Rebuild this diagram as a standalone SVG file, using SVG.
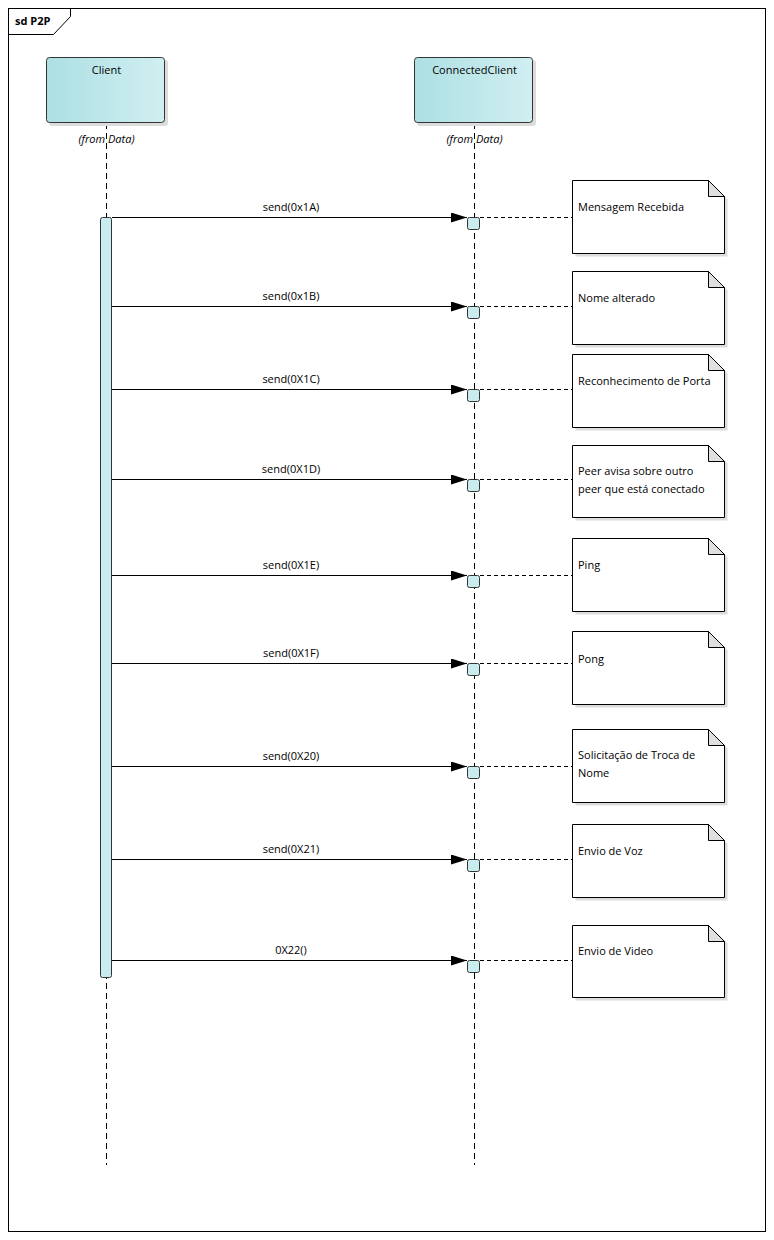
<svg xmlns="http://www.w3.org/2000/svg" width="774" height="1240" viewBox="0 0 774 1240">
<style>
text{font-family:"Segoe UI","Open Sans","Liberation Sans",sans-serif;font-size:11px;fill:#000}
.lbl{text-anchor:middle}
.it{font-style:italic;text-anchor:middle}
.life{stroke:#000;stroke-width:1;stroke-dasharray:6,4;fill:none}
.msg{stroke:#000;stroke-width:1.2;fill:none}
.link{stroke:#000;stroke-width:1;stroke-dasharray:4,3;fill:none}
.box{fill:url(#g);stroke:#333;stroke-width:1}
.act{fill:#c9ecee;stroke:#333;stroke-width:1}
.note{fill:#fff;stroke:#000;stroke-width:1}
.fold{fill:#e0e0e0;stroke:#000;stroke-width:1}
.shadow{fill:#dcdcdc}
</style>
<defs>
<linearGradient id="g" x1="0" y1="0" x2="1" y2="0">
<stop offset="0" stop-color="#addfe3"/>
<stop offset="1" stop-color="#d0eff1"/>
</linearGradient>
<marker id="arr" viewBox="0 0 16 10" refX="16" refY="5" markerWidth="16" markerHeight="10" markerUnits="userSpaceOnUse" orient="auto">
<path d="M0,0 L16,5 L0,10 Z" fill="#000"/>
</marker>
<path id="nshadow" d="M0,0 H136 L152,16 V73 H0 Z" fill="#dcdcdc"/>
</defs>
<rect x="0" y="0" width="774" height="1240" fill="#fff"/>
<g id="frame">
<rect x="8.5" y="8.5" width="757" height="1223" fill="none" stroke="#000"/>
<path d="M8.5,34.5 L53.5,34.5 L70.5,16.5 L70.5,8.5" fill="none" stroke="#000"/>
<text x="15" y="25" style="font-weight:bold">sd P2P</text>
</g>
<g id="lifelines">
<line class="life" x1="106.5" y1="123" x2="106.5" y2="1165"/>
<line class="life" x1="474.5" y1="123" x2="474.5" y2="1165"/>
</g>
<g id="client">
<rect class="shadow" x="49" y="60" width="119" height="66" rx="3"/>
<rect class="box" x="46.5" y="57.5" width="118" height="65" rx="3"/>
<text class="lbl" x="106.5" y="74">Client</text>
<text class="it" x="106.5" y="143">(from Data)</text>
</g>
<g id="connectedclient">
<rect class="shadow" x="417" y="60" width="119" height="66" rx="3"/>
<rect class="box" x="414.5" y="57.5" width="118" height="65" rx="3"/>
<text class="lbl" x="474.5" y="74">ConnectedClient</text>
<text class="it" x="474.5" y="143">(from Data)</text>
</g>
<g id="activation-client">
<rect class="act" x="100.5" y="217.5" width="11" height="760" rx="2"/>
</g>
<g id="connectors">
<line class="msg" x1="112" y1="217.5" x2="467" y2="217.5" marker-end="url(#arr)"/>
<line class="msg" x1="112" y1="306.5" x2="467" y2="306.5" marker-end="url(#arr)"/>
<line class="msg" x1="112" y1="389.5" x2="467" y2="389.5" marker-end="url(#arr)"/>
<line class="msg" x1="112" y1="479.5" x2="467" y2="479.5" marker-end="url(#arr)"/>
<line class="msg" x1="112" y1="575.5" x2="467" y2="575.5" marker-end="url(#arr)"/>
<line class="msg" x1="112" y1="663.5" x2="467" y2="663.5" marker-end="url(#arr)"/>
<line class="msg" x1="112" y1="766.5" x2="467" y2="766.5" marker-end="url(#arr)"/>
<line class="msg" x1="112" y1="859.5" x2="467" y2="859.5" marker-end="url(#arr)"/>
<line class="msg" x1="112" y1="960.5" x2="467" y2="960.5" marker-end="url(#arr)"/>
<text class="lbl" x="291" y="211">send(0x1A)</text>
<text class="lbl" x="291" y="300">send(0x1B)</text>
<text class="lbl" x="291" y="383">send(0X1C)</text>
<text class="lbl" x="291" y="473">send(0X1D)</text>
<text class="lbl" x="291" y="569">send(0X1E)</text>
<text class="lbl" x="291" y="657">send(0X1F)</text>
<text class="lbl" x="291" y="760">send(0X20)</text>
<text class="lbl" x="291" y="853">send(0X21)</text>
<text class="lbl" x="291" y="954">0X22()</text>
<line class="link" x1="480" y1="217.5" x2="572" y2="217.5"/>
<line class="link" x1="480" y1="306.5" x2="572" y2="306.5"/>
<line class="link" x1="480" y1="389.5" x2="572" y2="389.5"/>
<line class="link" x1="480" y1="479.5" x2="572" y2="479.5"/>
<line class="link" x1="480" y1="575.5" x2="572" y2="575.5"/>
<line class="link" x1="480" y1="663.5" x2="572" y2="663.5"/>
<line class="link" x1="480" y1="766.5" x2="572" y2="766.5"/>
<line class="link" x1="480" y1="859.5" x2="572" y2="859.5"/>
<line class="link" x1="480" y1="960.5" x2="572" y2="960.5"/>
</g>
<g id="activations-connected">
<rect class="act" x="467.5" y="217.5" width="12" height="12" rx="2"/>
<rect class="act" x="467.5" y="306.5" width="12" height="12" rx="2"/>
<rect class="act" x="467.5" y="389.5" width="12" height="12" rx="2"/>
<rect class="act" x="467.5" y="479.5" width="12" height="12" rx="2"/>
<rect class="act" x="467.5" y="575.5" width="12" height="12" rx="2"/>
<rect class="act" x="467.5" y="663.5" width="12" height="12" rx="2"/>
<rect class="act" x="467.5" y="766.5" width="12" height="12" rx="2"/>
<rect class="act" x="467.5" y="859.5" width="12" height="12" rx="2"/>
<rect class="act" x="467.5" y="960.5" width="12" height="12" rx="2"/>
</g>
<g id="note1">
<use href="#nshadow" x="575.5" y="183.5"/>
<path class="note" d="M572.5,180.5 H708.5 L724.5,196.5 V253.5 H572.5 Z"/>
<path class="fold" d="M708.5,180.5 V196.5 H724.5 Z"/>
<text x="578" y="211">Mensagem Recebida</text>
</g>
<g id="note2">
<use href="#nshadow" x="575.5" y="274.5"/>
<path class="note" d="M572.5,271.5 H708.5 L724.5,287.5 V344.5 H572.5 Z"/>
<path class="fold" d="M708.5,271.5 V287.5 H724.5 Z"/>
<text x="578" y="302">Nome alterado</text>
</g>
<g id="note3">
<use href="#nshadow" x="575.5" y="357.5"/>
<path class="note" d="M572.5,354.5 H708.5 L724.5,370.5 V427.5 H572.5 Z"/>
<path class="fold" d="M708.5,354.5 V370.5 H724.5 Z"/>
<text x="578" y="385">Reconhecimento de Porta</text>
</g>
<g id="note4">
<use href="#nshadow" x="575.5" y="447.5"/>
<path class="note" d="M572.5,445.5 H708.5 L724.5,461.5 V517.5 H572.5 Z"/>
<path class="fold" d="M708.5,445.5 V461.5 H724.5 Z"/>
<text x="578" y="475">Peer avisa sobre outro</text>
<text x="578" y="493">peer que está conectado</text>
</g>
<g id="note5">
<use href="#nshadow" x="575.5" y="541.5"/>
<path class="note" d="M572.5,538.5 H708.5 L724.5,554.5 V611.5 H572.5 Z"/>
<path class="fold" d="M708.5,538.5 V554.5 H724.5 Z"/>
<text x="578" y="569">Ping</text>
</g>
<g id="note6">
<use href="#nshadow" x="575.5" y="634.5"/>
<path class="note" d="M572.5,631.5 H708.5 L724.5,647.5 V704.5 H572.5 Z"/>
<path class="fold" d="M708.5,631.5 V647.5 H724.5 Z"/>
<text x="578" y="663">Pong</text>
</g>
<g id="note7">
<use href="#nshadow" x="575.5" y="732.5"/>
<path class="note" d="M572.5,729.5 H708.5 L724.5,745.5 V802.5 H572.5 Z"/>
<path class="fold" d="M708.5,729.5 V745.5 H724.5 Z"/>
<text x="578" y="759">Solicitação de Troca de</text>
<text x="578" y="777">Nome</text>
</g>
<g id="note8">
<use href="#nshadow" x="575.5" y="827.5"/>
<path class="note" d="M572.5,824.5 H708.5 L724.5,840.5 V897.5 H572.5 Z"/>
<path class="fold" d="M708.5,824.5 V840.5 H724.5 Z"/>
<text x="578" y="855">Envio de Voz</text>
</g>
<g id="note9">
<use href="#nshadow" x="575.5" y="927.5"/>
<path class="note" d="M572.5,925.5 H708.5 L724.5,941.5 V997.5 H572.5 Z"/>
<path class="fold" d="M708.5,925.5 V941.5 H724.5 Z"/>
<text x="578" y="955">Envio de Video</text>
</g>
</svg>
